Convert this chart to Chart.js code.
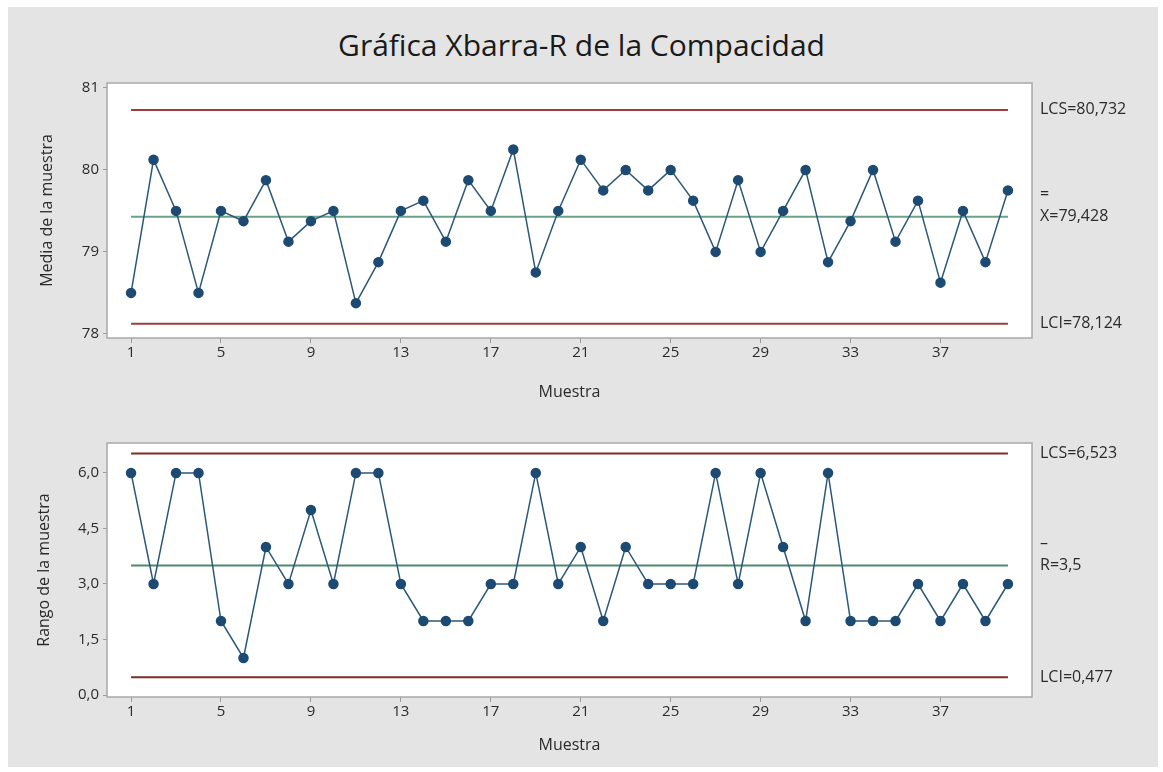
<!DOCTYPE html>
<html>
<head>
<meta charset="utf-8">
<script src="https://cdn.jsdelivr.net/npm/chart.js@4"></script>
<style>
  body { margin: 0; background: #fff; font-family: 'Open Sans', sans-serif; }
  #frame { position: absolute; left: 8px; top: 7px; width: 1150px; height: 760px; background: #e4e4e4; }
  #title { position: absolute; left: 0; top: 24px; width: 1163px; text-align: center; font-size: 30px; color: #1a1a1a; line-height: 42px; }
  canvas { position: absolute; left: 0; }
</style>
</head>
<body>
<div id="frame"></div>
<div id="title">Gráfica Xbarra-R de la Compacidad</div>
<canvas id="meanChart" width="1163" height="420" style="top:0"></canvas>
<canvas id="rangeChart" width="1163" height="352" style="top:420px"></canvas>
<script>
const samples = [1, 2, 3, 4, 5, 6, 7, 8, 9, 10, 11, 12, 13, 14, 15, 16, 17, 18, 19, 20,
  21, 22, 23, 24, 25, 26, 27, 28, 29, 30, 31, 32, 33, 34, 35, 36, 37, 38, 39, 40];
const sampleMeans = [78.5, 80.125, 79.5, 78.5, 79.5, 79.375, 79.875, 79.125, 79.375, 79.5,
  78.375, 78.875, 79.5, 79.625, 79.125, 79.875, 79.5, 80.25, 78.75, 79.5,
  80.125, 79.75, 80, 79.75, 80, 79.625, 79, 79.875, 79, 79.5,
  80, 78.875, 79.375, 80, 79.125, 79.625, 78.625, 79.5, 78.875, 79.75];
const sampleRanges = [6, 3, 6, 6, 2, 1, 4, 3, 5, 3,
  6, 6, 3, 2, 2, 2, 3, 3, 6, 3,
  4, 2, 4, 3, 3, 3, 6, 3, 6, 4,
  2, 6, 2, 2, 2, 3, 2, 3, 2, 3];

const meanLimits = [80.732, 79.428, 78.124];   // LCS, centro, LCI
const rangeLimits = [6.523, 3.5, 0.477];
const meanLimitLabels = ['LCS=80,732', 'X=79,428', 'LCI=78,124'];
const rangeLimitLabels = ['LCS=6,523', 'R=3,5', 'LCI=0,477'];
const meanBars = ['', '=', ''];
const rangeBars = ['', '–', ''];

const xTicks = [1, 5, 9, 13, 17, 21, 25, 29, 33, 37];
const meanTicks = [78, 79, 80, 81];
const rangeTicks = [0, 1.5, 3, 4.5, 6];

const textColor = '#2b2b2b';

const boxPlugin = {
  id: 'box',
  beforeDraw(chart) {
    const { ctx, chartArea: a } = chart;
    ctx.save();
    ctx.fillStyle = '#fff';
    ctx.fillRect(a.left, a.top, a.right - a.left, a.bottom - a.top);
    ctx.restore();
  },
  afterDraw(chart) {
    const { ctx, chartArea: a } = chart;
    const o = chart.options.plugins.box;
    ctx.save();
    ctx.strokeStyle = '#a8a8a8';
    ctx.lineWidth = 1.5;
    ctx.strokeRect(a.left, a.top, a.right - a.left, a.bottom - a.top);
    // etiquetas de los limites a la derecha
    const y = chart.scales.y;
    ctx.fillStyle = textColor;
    ctx.font = '16px "Open Sans"';
    ctx.textAlign = 'left';
    ctx.textBaseline = 'middle';
    o.limits.forEach((v, i) => {
      const py = y.getPixelForValue(v);
      ctx.fillText(o.labels[i], a.right + 8, py);
      if (o.bars[i]) ctx.fillText(o.bars[i], a.right + 8, py - 22);
    });
    ctx.restore();
  }
};

function limitLine(value, color) {
  return {
    data: [{ x: samples[0], y: value }, { x: samples[samples.length - 1], y: value }],
    borderColor: color,
    borderWidth: 2,
    pointRadius: 0,
    order: 2
  };
}

function makeChart(id, values, limits, labels, bars, yTicks, yMin, yMax, yTitle, opts) {
  const ctx = document.getElementById(id).getContext('2d');
  return new Chart(ctx, {
    type: 'line',
    data: {
      datasets: [
        limitLine(limits[0], opts.red),
        limitLine(limits[1], opts.green),
        limitLine(limits[2], opts.red),
        {
          data: samples.map((s, i) => ({ x: s, y: values[i] })),
          borderColor: '#2c5878',
          borderWidth: 1.5,
          pointRadius: 4.5,
          pointBackgroundColor: '#1c4a72',
          pointBorderColor: '#1c4a72',
          order: 1
        }
      ]
    },
    options: {
      responsive: false,
      animation: false,
      layout: { padding: { top: opts.padTop, right: 131, left: 0, bottom: 0 } },
      plugins: {
        legend: { display: false },
        tooltip: { enabled: false },
        box: { limits: limits, labels: labels, bars: bars }
      },
      scales: {
        x: {
          type: 'linear',
          min: -0.07,
          max: 41.07,
          afterBuildTicks: s => { s.ticks = xTicks.map(v => ({ value: v })); },
          afterFit: s => { s.height = opts.xHeight; },
          grid: { drawOnChartArea: false, tickLength: 5, color: '#9a9a9a' },
          border: { display: false },
          ticks: { color: textColor, font: { family: 'Open Sans', size: 15 }, padding: 1, maxRotation: 0 },
          title: { display: true, text: 'Muestra', color: textColor, font: { family: 'Open Sans', size: 16 }, padding: { bottom: opts.xTitlePad } }
        },
        y: {
          min: yMin,
          max: yMax,
          afterBuildTicks: s => { s.ticks = yTicks.map(v => ({ value: v })); },
          afterFit: s => { s.width = 107; },
          grid: { drawOnChartArea: false, tickLength: 4, color: '#9a9a9a' },
          border: { display: false },
          ticks: {
            color: textColor,
            font: { family: 'Open Sans', size: 15 },
            padding: 4,
            callback: v => opts.decimals ? v.toFixed(1).replace('.', ',') : String(v)
          },
          title: { display: true, text: yTitle, color: textColor, font: { family: 'Open Sans', size: 16 }, padding: { top: opts.yTitlePad } }
        }
      }
    },
    plugins: [boxPlugin]
  });
}

makeChart('meanChart', sampleMeans, meanLimits, meanLimitLabels, meanBars, meanTicks,
  77.95, 81.06, 'Media de la muestra',
  { red: '#a13c3c', green: '#6aa287', padTop: 83, xHeight: 82, xTitlePad: 18, yTitlePad: 38, decimals: false });

makeChart('rangeChart', sampleRanges, rangeLimits, rangeLimitLabels, rangeBars, rangeTicks,
  -0.054, 6.81, 'Rango de la muestra',
  { red: '#7e2e24', green: '#4d8a6c', padTop: 23, xHeight: 75, xTitlePad: 17, yTitlePad: 35, decimals: true });
</script>
</body>
</html>
